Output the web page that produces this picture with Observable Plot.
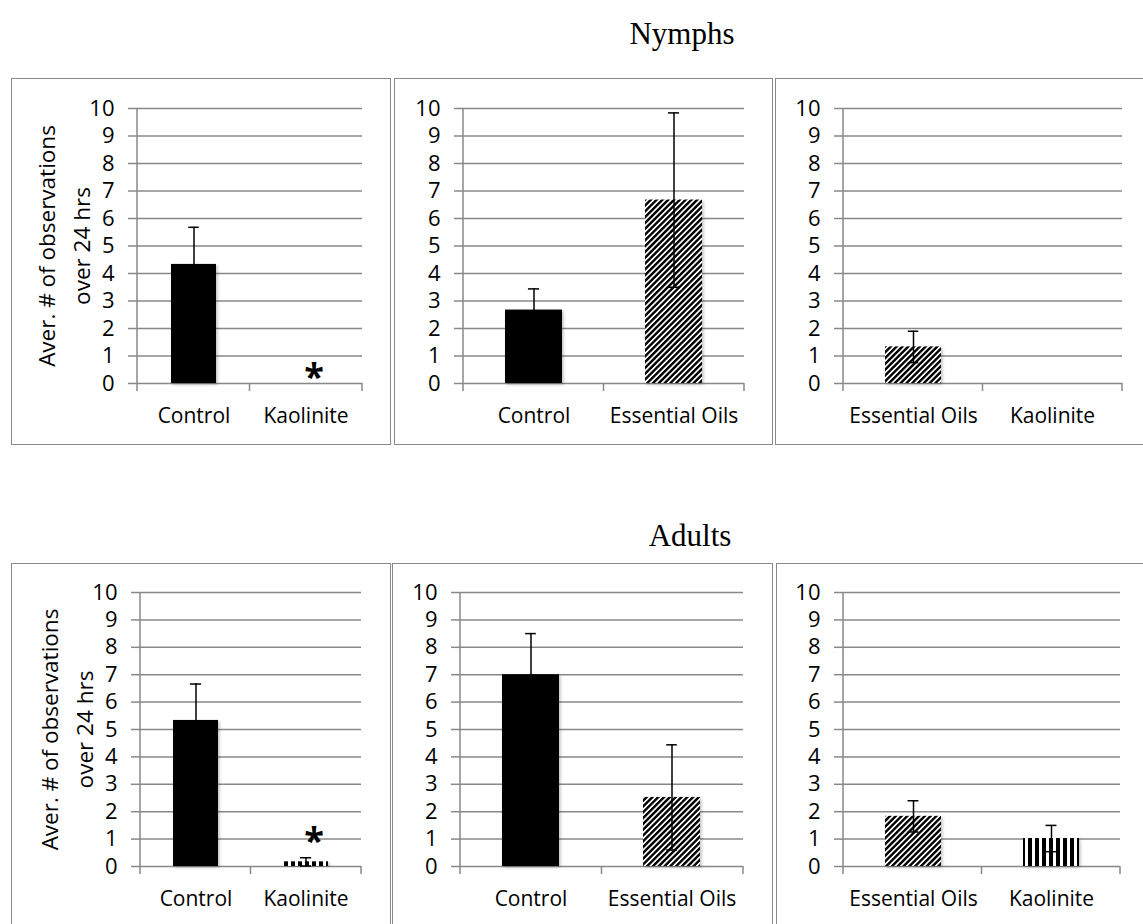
<!DOCTYPE html>
<html><head><meta charset="utf-8">
<script src="https://cdn.jsdelivr.net/npm/d3@7"></script>
<script src="https://cdn.jsdelivr.net/npm/@observablehq/plot@0.6"></script>
<style>
body{margin:0;background:#fff;}
#root{position:relative;width:1143px;height:924px;overflow:hidden;background:#fff;}
.box{position:absolute;border:1.5px solid #8a8a8a;box-sizing:border-box;}
.title{position:absolute;font-family:"Liberation Serif","Times New Roman",serif;font-size:31px;color:#000;white-space:nowrap;line-height:1;transform:translateX(-50%);}
.panel{position:absolute;}
.panel svg{max-width:none !important;}
.panel g[aria-label="bar"] rect{filter:url(#shadow);}
</style></head><body>
<svg width="0" height="0" style="position:absolute">
<defs>
<pattern id="diag" patternUnits="userSpaceOnUse" width="4.1" height="4.1" patternTransform="rotate(45)">
<rect width="4.1" height="4.1" fill="#fff"/><rect width="2.4" height="4.1" fill="#000"/></pattern>
<pattern id="vert" patternUnits="userSpaceOnUse" width="7" height="7">
<rect width="7" height="7" fill="#fff"/><rect width="4" height="7" fill="#000"/></pattern>
<filter id="shadow" x="-20%" y="-20%" width="140%" height="140%">
<feDropShadow dx="1.5" dy="1.5" stdDeviation="1.5" flood-color="#000" flood-opacity="0.25"/></filter>
</defs></svg>
<div id="root"></div>
<script>
// ---------------- data ----------------
const stages = ["Nymphs", "Adults"];
const comparisons = [["Control", "Kaolinite"], ["Control", "Essential Oils"], ["Essential Oils", "Kaolinite"]];
const nymphMeans  = [[4.33, 0], [2.67, 6.67], [1.33, 0]];
const nymphErrors = [[1.35, 0], [0.77, 3.17], [0.57, 0]];
const adultMeans  = [[5.33, 0.17], [7.0, 2.52], [1.83, 1.02]];
const adultErrors = [[1.33, 0.15], [1.5, 1.92], [0.57, 0.48]];
// significance asterisk level (data units) on the second category of each comparison
const nymphStars = [0.53, null, null];
const adultStars = [1.24, null, null];
const yTicks = [0, 1, 2, 3, 4, 5, 6, 7, 8, 9, 10];
const yLabel = "Aver. # of observations\nover 24 hrs";

// ---------------- styles / layout ----------------
const fillFor = {"Control": "#000", "Essential Oils": "url(#diag)", "Kaolinite": "url(#vert)"};
const GRID = "#888888";
const PI = 0.595; // inner band padding (Excel gap width)
const TITLE_FS = 31;
const layouts = [
  {titleBaseline: 44, titleX: 682, boxTop: 78, boxBottom: 445, plotTop: 108, plotBottom: 383,
   boxes: [[11, 391], [394, 773], [775, 1150]], plots: [[137, 362], [463, 744], [843, 1122]]},
  {titleBaseline: 546, titleX: 690, boxTop: 563, boxBottom: 935, plotTop: 592, plotBottom: 866,
   boxes: [[11, 391], [392, 773], [776, 1150]], plots: [[140, 361], [460, 743], [843, 1120]]}
];
const seriesMeans = [nymphMeans, adultMeans];
const seriesErrors = [nymphErrors, adultErrors];
const seriesStars = [nymphStars, adultStars];

const root = document.getElementById("root");

function axisDecor(index, scales, values, dims) {
  const g = d3.create("svg:g").attr("stroke", GRID).attr("stroke-width", 1.5);
  const x0 = dims.marginLeft, x1 = dims.width - dims.marginRight;
  const yt = dims.marginTop, yb = dims.height - dims.marginBottom;
  g.append("line").attr("x1", x0).attr("x2", x0).attr("y1", yt).attr("y2", yb + 8);
  for (const x of [(x0 + x1) / 2, x1]) {
    g.append("line").attr("x1", x).attr("x2", x).attr("y1", yb).attr("y2", yb + 8);
  }
  return g.node();
}

function makePanel(cats, means, errs, star, withLabel, box, plotX, L) {
  const rows = cats.map((c, i) => ({cat: c, mean: means[i], err: errs[i], lo: means[i] - errs[i], hi: means[i] + errs[i]}));
  const W = box[1] - box[0], H = L.boxBottom - L.boxTop;
  const ml = plotX[0] - box[0], mr = box[1] - plotX[1];
  const mt = L.plotTop - L.boxTop, mb = L.boxBottom - L.plotBottom;
  const pw = W - ml - mr;
  const bw = pw / 2 * (1 - PI);
  const capInset = Math.max(0, (bw - 11) / 2);
  const withErr = rows.filter(d => d.err > 0);
  const starRows = star == null ? [] : [{cat: cats[1], level: star}];
  const marks = [
    Plot.gridY(yTicks, {stroke: GRID, strokeOpacity: 1, strokeWidth: 1.5}),
    Plot.barY(rows.filter(d => d.mean > 0), {x: "cat", y: "mean", fill: d => fillFor[d.cat]}),
    Plot.ruleX(withErr, {x: "cat", y1: "lo", y2: "hi", stroke: "#000", strokeWidth: 1.5}),
    Plot.tickY(withErr, {x: "cat", y: "hi", stroke: "#000", strokeWidth: 1.5, insetLeft: capInset, insetRight: capInset}),
    Plot.tickY(withErr, {x: "cat", y: "lo", stroke: "#000", strokeWidth: 1.5, insetLeft: capInset, insetRight: capInset}),
    Plot.axisY(yTicks, {tickSize: 9, tickPadding: 14, stroke: GRID, strokeWidth: 1.5, fill: "#000", label: null, fontSize: 22}),
    Plot.axisX({tickSize: 0, tickPadding: 25, label: null, fill: "#000", fontSize: 21}),
    axisDecor,
    Plot.text(starRows, {x: "cat", y: "level", text: () => "*", fontSize: 36, fontWeight: "bold", dx: 8, dy: 9, fill: "#000"})
  ];
  if (withLabel) {
    marks.push(Plot.text([yLabel], {frameAnchor: "left", rotate: -90, dx: -76, lineHeight: 1.55, fontSize: 22.5, fill: "#000", lineAnchor: "middle", textAnchor: "middle"}));
  }
  return Plot.plot({
    width: W, height: H, marginLeft: ml, marginRight: mr, marginTop: mt, marginBottom: mb,
    style: {fontFamily: "'Open Sans', sans-serif", fontSize: "21px", color: "#000", background: "transparent", overflow: "visible", maxWidth: "none"},
    x: {domain: cats, paddingInner: PI, paddingOuter: PI / 2, axis: null},
    y: {domain: [0, 10], axis: null},
    marks
  });
}

stages.forEach((stage, r) => {
  const L = layouts[r];
  const t = document.createElement("div");
  t.className = "title";
  t.textContent = stage;
  t.style.left = L.titleX + "px";
  t.style.top = (L.titleBaseline - 0.84 * TITLE_FS) + "px";
  root.appendChild(t);
  comparisons.forEach((cats, p) => {
    const box = L.boxes[p];
    const W = box[1] - box[0], H = L.boxBottom - L.boxTop;
    const b = document.createElement("div");
    b.className = "box";
    Object.assign(b.style, {left: box[0] + "px", top: L.boxTop + "px", width: W + "px", height: H + "px"});
    root.appendChild(b);
    const svg = makePanel(cats, seriesMeans[r][p], seriesErrors[r][p], seriesStars[r][p], p === 0, box, L.plots[p], L);
    svg.style.maxWidth = "none";
    const holder = document.createElement("div");
    holder.className = "panel";
    Object.assign(holder.style, {left: box[0] + "px", top: L.boxTop + "px", width: W + "px", height: H + "px"});
    holder.appendChild(svg);
    root.appendChild(holder);
  });
});
</script>
</body></html>
